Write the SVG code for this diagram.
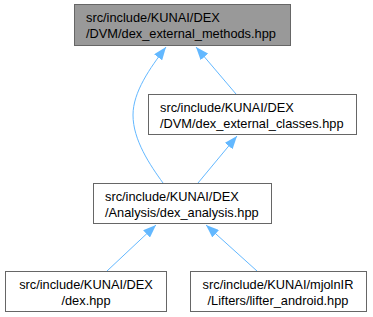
<svg xmlns="http://www.w3.org/2000/svg" width="373" height="317" viewBox="0 0 373 317">
  <style>
    .box { fill: #ffffff; stroke: #666666; stroke-width: 1; }
    .cur { fill: #999999; stroke: #666666; stroke-width: 1; }
    .lbl { font-family: "Liberation Sans", Arial, Helvetica, sans-serif; font-size: 12.8px; fill: #000000; }
    .edge { fill: none; stroke: #63b8ff; stroke-width: 1; }
  </style>
  <defs>
    <marker id="arrow" viewBox="0 0 13 10" refX="13" refY="5" markerWidth="13" markerHeight="10" markerUnits="userSpaceOnUse" orient="auto">
      <path d="M0,0 L13,5 L0,10 Z" fill="#63b8ff"/>
    </marker>
  </defs>

  <g id="edges">
    <path class="edge" marker-end="url(#arrow)" d="M163,183 C150,165 133,140 133,115 C133,92 150,68 166,47"/>
    <path class="edge" marker-end="url(#arrow)" d="M236,94 L196,47"/>
    <path class="edge" marker-end="url(#arrow)" d="M198,183 L237,136"/>
    <path class="edge" marker-end="url(#arrow)" d="M107,271 L156,225"/>
    <path class="edge" marker-end="url(#arrow)" d="M257,271 L206,225"/>
  </g>

  <g id="node1">
    <rect class="cur" x="74.5" y="4.5" width="216" height="41"/>
    <text class="lbl" x="86" y="22">src/include/KUNAI/DEX</text>
    <text class="lbl" x="86" y="38">/DVM/dex_external_methods.hpp</text>
  </g>

  <g id="node2">
    <rect class="box" x="148.5" y="94.5" width="208" height="40"/>
    <text class="lbl" x="160" y="112">src/include/KUNAI/DEX</text>
    <text class="lbl" x="160" y="128">/DVM/dex_external_classes.hpp</text>
  </g>

  <g id="node3">
    <rect class="box" x="93.5" y="183.5" width="178" height="40"/>
    <text class="lbl" x="105" y="201">src/include/KUNAI/DEX</text>
    <text class="lbl" x="105" y="217">/Analysis/dex_analysis.hpp</text>
  </g>

  <g id="node4">
    <rect class="box" x="5.5" y="271.5" width="161" height="40"/>
    <text class="lbl" x="86" y="289" text-anchor="middle">src/include/KUNAI/DEX</text>
    <text class="lbl" x="86" y="305" text-anchor="middle">/dex.hpp</text>
  </g>

  <g id="node5">
    <rect class="box" x="190.5" y="271.5" width="176" height="40"/>
    <text class="lbl" x="278" y="289" text-anchor="middle">src/include/KUNAI/mjolnIR</text>
    <text class="lbl" x="278" y="305" text-anchor="middle">/Lifters/lifter_android.hpp</text>
  </g>
</svg>
